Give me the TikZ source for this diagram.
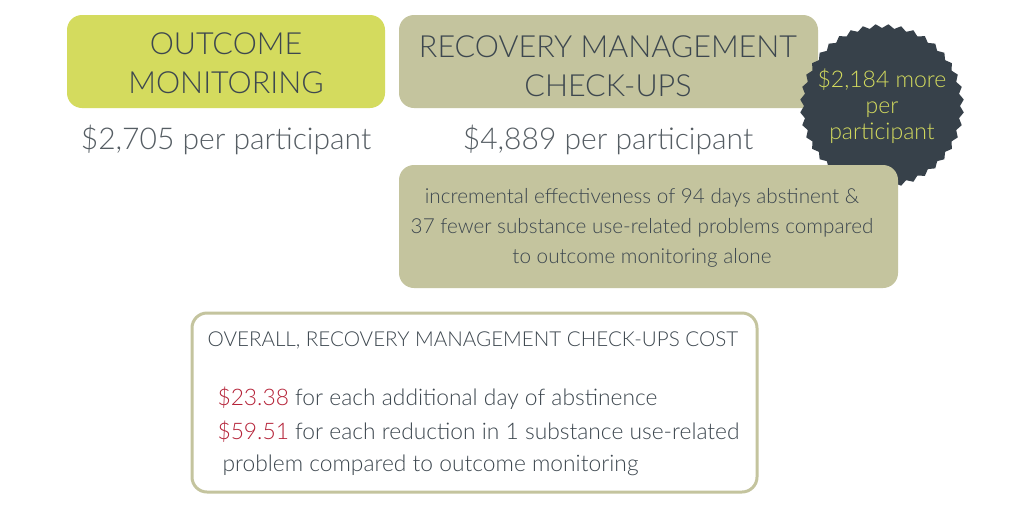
\documentclass[tikz,border=0pt]{standalone}
\usepackage{fontspec}
\IfFontExistsTF{Lato Light}{\setmainfont{Lato Light}}{\setmainfont{Lato}}
\definecolor{lime}{HTML}{D4DB5E}
\definecolor{khaki}{HTML}{C4C49E}
\definecolor{slate}{HTML}{37414A}
\definecolor{txt}{HTML}{3D474F}
\definecolor{gtxt}{HTML}{555D63}
\definecolor{red}{HTML}{B52238}
\tikzset{
  bigtxt/.style={text=txt, font=\fontsize{30.5}{39}\selectfont, align=center},
  pricetxt/.style={text=gtxt, font=\fontsize{30}{34}\selectfont},
  efftxt/.style={text=txt, font=\fontsize{20.7}{30}\selectfont, align=center},
  bodytxt/.style={text=txt, font=\fontsize{22.8}{33}\selectfont, anchor=west},
}
\begin{document}
\begin{tikzpicture}[x=1pt,y=-1pt]
\useasboundingbox[fill=white] (0,0) rectangle (1024,512);
% boxes
\fill[lime, rounded corners=15pt] (67,15) rectangle (385,108);
\node[bigtxt] (om) at (226,63) {OUTCOME\\MONITORING};
\node[pricetxt] (omp) at (226,140) {\$2,705 per participant};

\fill[khaki, rounded corners=15pt] (399,15) rectangle (818,108);
\node[bigtxt] (rm) at (608,66) {RECOVERY MANAGEMENT\\CHECK-UPS};
\node[pricetxt] (rmp) at (608,140) {\$4,889 per participant};

% starburst
\fill[slate] plot[samples at={0,4.5,...,355.5}] ({882+(78+4*mod(round(\x/4.5),2))*cos(\x)},{106+(78+4*mod(round(\x/4.5),2))*sin(\x)}) -- cycle;
\node[text=lime, font=\fontsize{23}{26}\selectfont, align=center] (burst) at (882,106) {\$2,184 more\\per\\participant};

\fill[khaki, rounded corners=15pt] (399,165) rectangle (898,288);
\node[efftxt] (eff) at (642,228) {incremental effectiveness of 94 days abstinent \&\\37 fewer substance use-related problems compared\\to outcome monitoring alone};

\draw[khaki, line width=3pt, fill=white, rounded corners=15pt] (192,313) rectangle (757,492);
\node[text=txt, font=\fontsize{20.6}{22}\selectfont, anchor=west] (title) at (204,340) {OVERALL, RECOVERY MANAGEMENT CHECK-UPS COST};
\node[bodytxt] (l1) at (214,398) {\textcolor{red}{\$23.38} for each additional day of abstinence};
\node[bodytxt] (l2) at (214,432) {\textcolor{red}{\$59.51} for each reduction in 1 substance use-related};
\node[bodytxt] (l3) at (219,465) {problem compared to outcome monitoring};
\end{tikzpicture}
\end{document}
